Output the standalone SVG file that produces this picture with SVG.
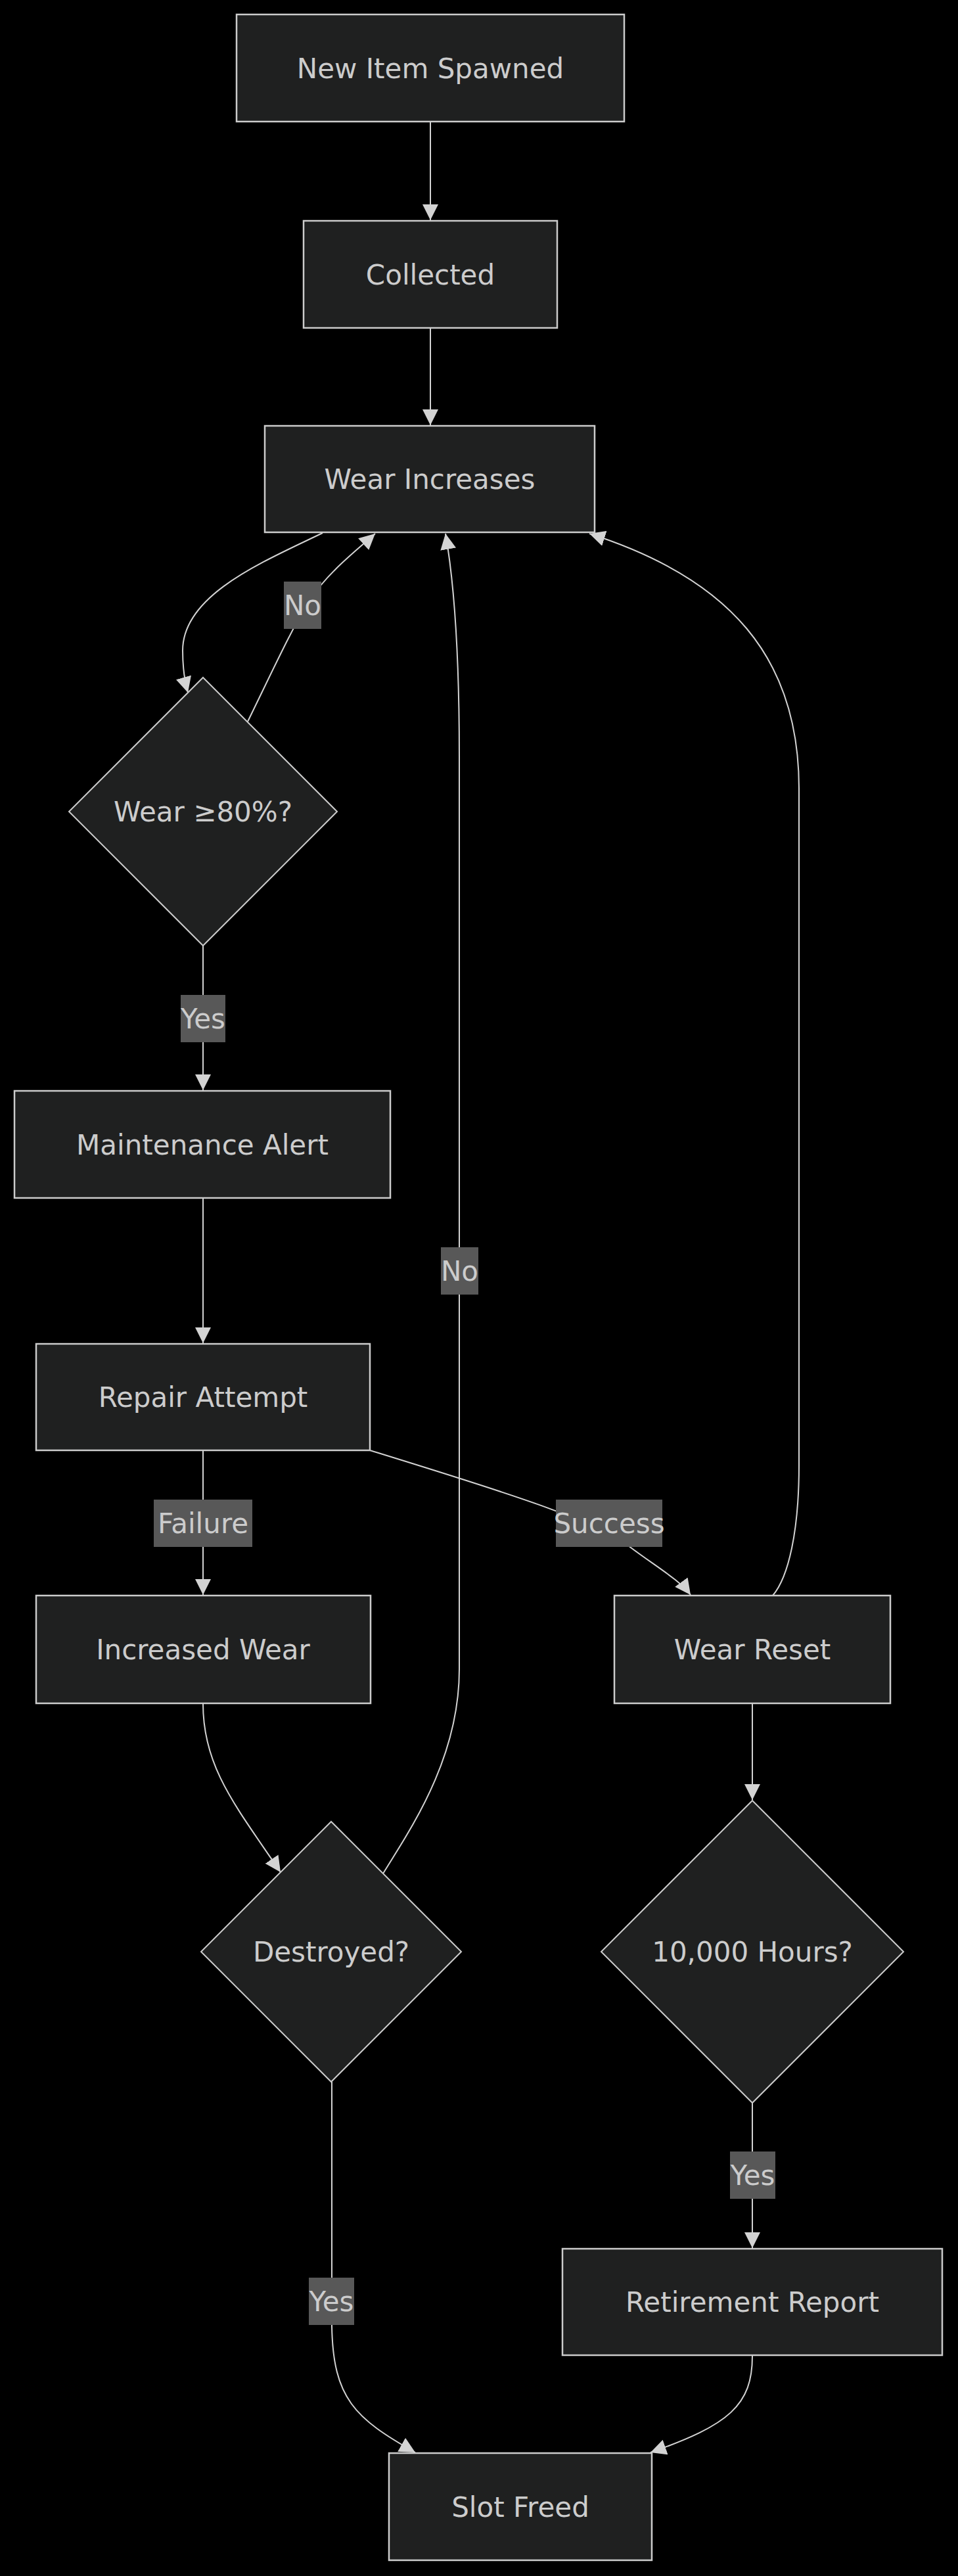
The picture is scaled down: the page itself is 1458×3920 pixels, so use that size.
<svg xmlns="http://www.w3.org/2000/svg" width="1458" height="3920" viewBox="0 0 1458 3920">
<style>
.node rect, .node polygon { fill: #1f2020; stroke: #cccccc; }
.node rect { stroke-width: 2.5; }
.node polygon { stroke-width: 2; }
.node text, .elabel text { font-family: "DejaVu Sans", Verdana, sans-serif; font-size: 42px; fill: #cccccc; text-anchor: middle; }
.edges path { fill: none; stroke: #d3d3d3; stroke-width: 2; }
.edges path.arr { marker-end: url(#arrow); }
.elabel rect { fill: #585858; }
</style>
<defs>
<marker id="arrow" viewBox="0 0 10 10" refX="10" refY="5" markerUnits="userSpaceOnUse" markerWidth="24" markerHeight="24" orient="auto">
<path d="M0,0 L10,5 L0,10 z" fill="#d3d3d3"/>
</marker>
</defs>
<rect x="0" y="0" width="1458" height="3920" fill="#000000"/>

<g class="edges" id="connectors">
<path class="arr" d="M655,186 L655,335"/>
<path class="arr" d="M655,500 L655,647"/>
<path class="arr" d="M491,811 C400,855 278,905 278,990 C278,1020 282,1040 286,1054"/>
<path class="arr" d="M377,1098 C420,1010 440,965 470,915 C500,870 540,840 571,812"/>
<path class="arr" d="M309,1439 L309,1659"/>
<path class="arr" d="M309,1824 L309,2044"/>
<path class="arr" d="M309,2208 L309,2427"/>
<path class="arr" d="M563,2207 C750,2265 900,2310 960,2355 C1000,2385 1035,2405 1051,2427"/>
<path class="arr" d="M1176,2428 C1200,2400 1216,2330 1216,2230 L1216,1200 C1216,1000 1110,880 897,812"/>
<path class="arr" d="M309,2593 C309,2690 360,2750 427,2849"/>
<path class="arr" d="M583,2851 C620,2790 699,2680 699,2540 L699,1150 C699,980 690,880 678,812"/>
<path class="arr" d="M1145,2593 L1145,2739"/>
<path class="arr" d="M1145,3200 L1145,3421"/>
<path class="arr" d="M505,3168 L505,3540 C507,3650 540,3680 632,3732"/>
<path class="arr" d="M1145,3585 C1145,3660 1110,3690 990,3732"/>
</g>

<g class="elabel" id="label-no1"><rect x="432" y="885" width="57" height="72"/><text x="460.5" y="935.5">No</text></g>
<g class="elabel" id="label-yes1"><rect x="275" y="1514" width="68" height="72"/><text x="309" y="1564.5">Yes</text></g>
<g class="elabel" id="label-no2"><rect x="671" y="1898" width="57" height="72"/><text x="699.5" y="1948.5">No</text></g>
<g class="elabel" id="label-failure"><rect x="234" y="2282" width="150" height="72"/><text x="309" y="2332.5">Failure</text></g>
<g class="elabel" id="label-success"><rect x="846" y="2282" width="162" height="72"/><text x="927" y="2332.5">Success</text></g>
<g class="elabel" id="label-yes2"><rect x="1111" y="3274" width="69" height="72"/><text x="1145.5" y="3324.5">Yes</text></g>
<g class="elabel" id="label-yes3"><rect x="470" y="3466" width="69" height="72"/><text x="504.5" y="3516.5">Yes</text></g>

<g class="node" id="new-item-spawned"><rect x="360" y="22" width="590" height="163"/><text x="655" y="118.5">New Item Spawned</text></g>
<g class="node" id="collected"><rect x="462" y="336" width="386" height="163"/><text x="655" y="432.5">Collected</text></g>
<g class="node" id="wear-increases"><rect x="403" y="648" width="502" height="162"/><text x="654" y="744">Wear Increases</text></g>
<g class="node" id="wear-check"><polygon points="309,1031 513,1235 309,1439 105,1235"/><text x="309" y="1250">Wear ≥80%?</text></g>
<g class="node" id="maintenance-alert"><rect x="22" y="1660" width="572" height="163"/><text x="308" y="1756.5">Maintenance Alert</text></g>
<g class="node" id="repair-attempt"><rect x="55" y="2045" width="508" height="162"/><text x="309" y="2141">Repair Attempt</text></g>
<g class="node" id="increased-wear"><rect x="55" y="2428" width="509" height="164"/><text x="309" y="2525">Increased Wear</text></g>
<g class="node" id="wear-reset"><rect x="935" y="2428" width="420" height="164"/><text x="1145" y="2525">Wear Reset</text></g>
<g class="node" id="destroyed"><polygon points="504,2772 702,2970 504,3168 306,2970"/><text x="504" y="2985">Destroyed?</text></g>
<g class="node" id="hours-check"><polygon points="1145,2740 1375,2970 1145,3200 915,2970"/><text x="1145" y="2985">10,000 Hours?</text></g>
<g class="node" id="retirement-report"><rect x="856" y="3422" width="578" height="162"/><text x="1145" y="3518">Retirement Report</text></g>
<g class="node" id="slot-freed"><rect x="592" y="3733" width="400" height="163"/><text x="792" y="3829.5">Slot Freed</text></g>
</svg>
